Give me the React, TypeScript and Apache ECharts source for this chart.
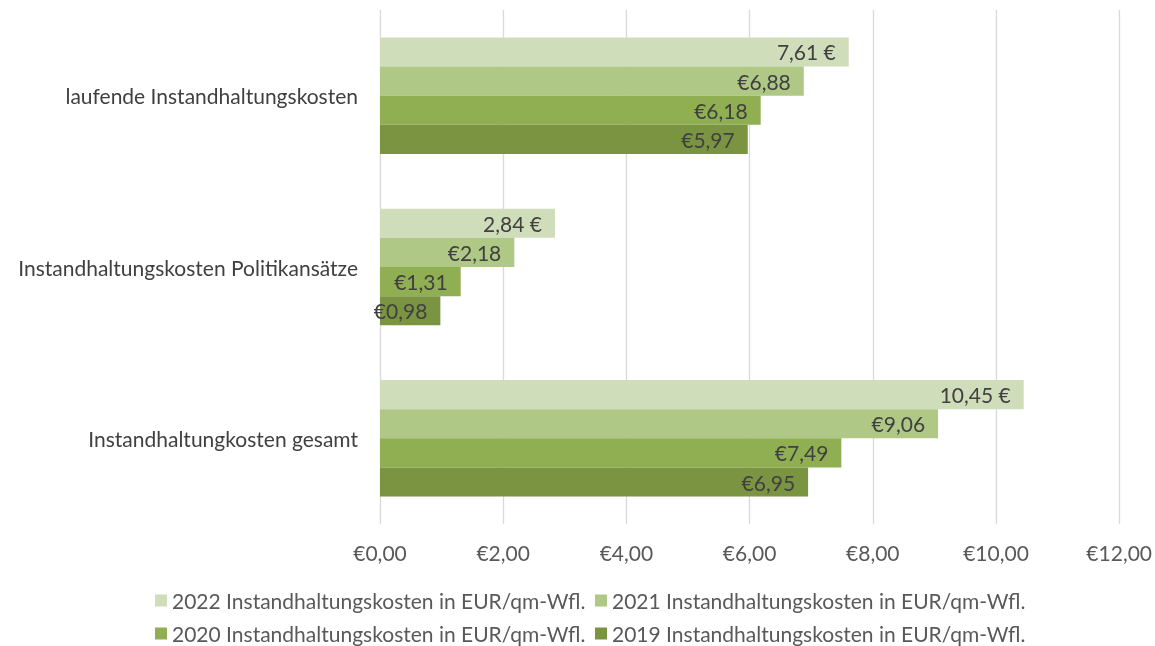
import React, { useEffect, useRef } from "react";
import * as echarts from "echarts";

const categories = [
  "laufende Instandhaltungskosten",
  "Instandhaltungskosten Politikansätze",
  "Instandhaltungkosten gesamt",
];
const seriesNames = [
  "2022 Instandhaltungskosten in EUR/qm-Wfl.",
  "2021 Instandhaltungskosten in EUR/qm-Wfl.",
  "2020 Instandhaltungskosten in EUR/qm-Wfl.",
  "2019 Instandhaltungskosten in EUR/qm-Wfl.",
];
const values2022 = [7.61, 2.84, 10.45];
const values2021 = [6.88, 2.18, 9.06];
const values2020 = [6.18, 1.31, 7.49];
const values2019 = [5.97, 0.98, 6.95];
const colors = ["#CFDDBB", "#AFC886", "#8FAF52", "#7A9442"];
const xTicks = { min: 0, max: 12, interval: 2 };

const FONT = "Lato, 'Open Sans', sans-serif";
const fmt = (v: number) => v.toFixed(2).replace(".", ",");

export default function App() {
  const ref = useRef<HTMLDivElement>(null);
  useEffect(() => {
    if (!ref.current) return;
    const chart = echarts.init(ref.current, undefined, { renderer: "svg" });
    const allValues = [values2022, values2021, values2020, values2019];
    const legendPos = [
      { left: 155, top: 590 },
      { left: 595, top: 590 },
      { left: 155, top: 623 },
      { left: 595, top: 623 },
    ];
    chart.setOption({
      animation: false,
      color: colors,
      grid: { left: 380, right: 33, top: 10, bottom: 122, containLabel: false },
      legend: seriesNames.map((n, i) => ({
        data: [n],
        left: legendPos[i].left,
        top: legendPos[i].top,
        padding: 0,
        itemWidth: 12,
        itemHeight: 12,
        itemGap: 6,
        icon: "rect",
        selectedMode: false,
        textStyle: { fontFamily: FONT, fontSize: 21, color: "#595959", padding: [0, 0, 0, 0] },
      })),
      xAxis: {
        type: "value",
        min: xTicks.min,
        max: xTicks.max,
        interval: xTicks.interval,
        axisLine: { show: false },
        axisTick: { show: false },
        splitLine: { lineStyle: { color: "#D9D9D9", width: 1.3 } },
        axisLabel: {
          formatter: (v: number) => "€" + fmt(v),
          fontFamily: FONT,
          fontSize: 21,
          color: "#595959",
          margin: 18,
        },
      },
      yAxis: {
        type: "category",
        data: categories,
        inverse: true,
        axisLine: { show: false },
        axisTick: { show: false },
        axisLabel: {
          fontFamily: FONT,
          fontSize: 21,
          color: "#404040",
          margin: 22,
        },
      },
      series: seriesNames.map((n, i) => ({
        name: n,
        type: "bar",
        data: allValues[i],
        barGap: "0%",
        barCategoryGap: "32%",
        itemStyle: { color: colors[i] },
        label: {
          show: true,
          position: "insideRight",
          distance: 13,
          fontFamily: FONT,
          fontSize: 21,
          color: "#404040",
          formatter: (p: any) =>
            i === 0 ? fmt(p.value) + " €" : "€" + fmt(p.value),
        },
      })),
    });
    return () => chart.dispose();
  }, []);
  return (
    <div
      ref={ref}
      style={{ position: "fixed", left: 0, top: 0, width: 1155, height: 646 }}
    />
  );
}
